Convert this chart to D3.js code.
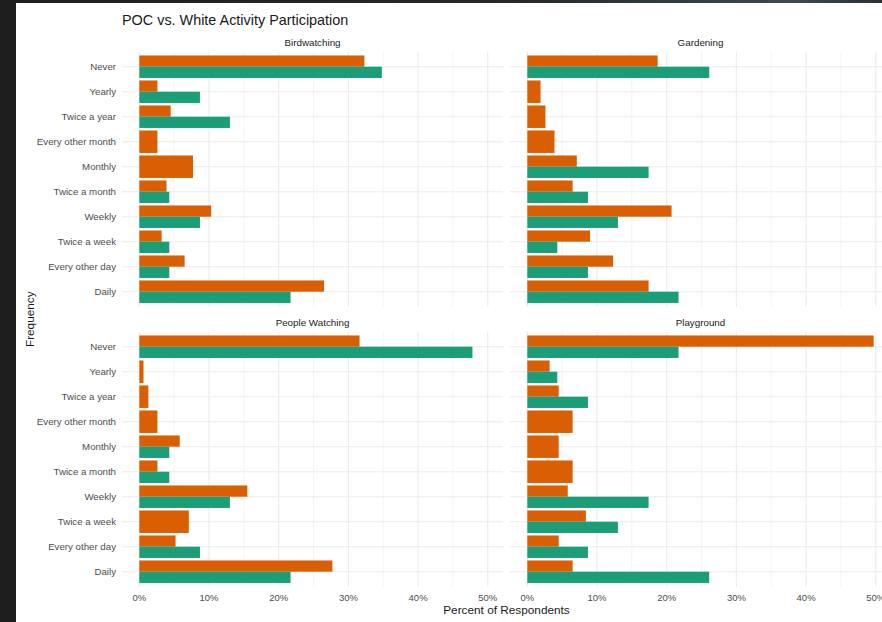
<!DOCTYPE html>
<html>
<head>
<meta charset="utf-8">
<script src="https://cdn.jsdelivr.net/npm/d3@7"></script>
<style>
  html, body { margin: 0; padding: 0; background: #ffffff; }
  svg { display: block; }
  text { font-family: "Liberation Sans", Arial, Helvetica, sans-serif; }
</style>
</head>
<body>
<script>
// ---------- data ----------
const categories = ["Never", "Yearly", "Twice a year", "Every other month", "Monthly",
  "Twice a month", "Weekly", "Twice a week", "Every other day", "Daily"];
const activities = ["Birdwatching", "Gardening", "People Watching", "Playground"];
const groups = ["POC", "White"];
const groupColors = ["#D95F02", "#1B9E77"];

const birdwatchingPOC   = [32.3, 2.6, 4.5, 2.6, 7.7, 3.9, 10.3, 3.2, 6.5, 26.5];
const birdwatchingWhite = [34.8, 8.7, 13.0, null, null, 4.3, 8.7, 4.3, 4.3, 21.7];
const gardeningPOC      = [18.7, 1.9, 2.6, 3.9, 7.1, 6.5, 20.7, 9.0, 12.3, 17.4];
const gardeningWhite    = [26.1, null, null, null, 17.4, 8.7, 13.0, 4.3, 8.7, 21.7];
const peoplePOC         = [31.6, 0.6, 1.3, 2.6, 5.8, 2.6, 15.5, 7.1, 5.2, 27.7];
const peopleWhite       = [47.8, null, null, null, 4.3, 4.3, 13.0, null, 8.7, 21.7];
const playgroundPOC     = [49.7, 3.2, 4.5, 6.5, 4.5, 6.5, 5.8, 8.4, 4.5, 6.5];
const playgroundWhite   = [21.7, 4.3, 8.7, null, null, null, 17.4, 13.0, 8.7, 26.1];

const xTicks = [0, 10, 20, 30, 40, 50];
const xMinorTicks = [5, 15, 25, 35, 45];

const titleText = "POC vs. White Activity Participation";
const xTitle = "Percent of Respondents";
const yTitle = "Frequency";

const seriesByActivity = [
  [birdwatchingPOC, birdwatchingWhite],
  [gardeningPOC, gardeningWhite],
  [peoplePOC, peopleWhite],
  [playgroundPOC, playgroundWhite]
];

// ---------- layout ----------
const W = 882, H = 622;
const svg = d3.select("body").append("svg").attr("width", W).attr("height", H);

// screenshot frame
const defs = svg.append("defs");
const grad = defs.append("linearGradient").attr("id", "topbar").attr("x1", "0").attr("x2", "1");
grad.append("stop").attr("offset", "0").attr("stop-color", "#1f1f1f");
grad.append("stop").attr("offset", "0.6").attr("stop-color", "#262a2c");
grad.append("stop").attr("offset", "0.9").attr("stop-color", "#3b4b53");
grad.append("stop").attr("offset", "1").attr("stop-color", "#2a3034");
svg.append("rect").attr("x", 0).attr("y", 0).attr("width", W).attr("height", 3).attr("fill", "url(#topbar)");
svg.append("rect").attr("x", 0).attr("y", 0).attr("width", 16).attr("height", H).attr("fill", "#1e1e1e");

const colX = [122, 510];
const rowY = [51.7, 331.7];
const panelW = 381, panelH = 255;

const maxVal = d3.max(seriesByActivity.flat(2).filter(v => v != null));
const xDomain = [-0.05 * maxVal, 1.05 * maxVal];

activities.forEach((act, i) => {
  const px = colX[i % 2], py = rowY[Math.floor(i / 2)];
  const g = svg.append("g").attr("transform", `translate(${px},${py})`);

  const x = d3.scaleLinear().domain(xDomain).range([0, panelW]);
  const y = d3.scalePoint().domain(categories).range([0, panelH]).padding(0.6);
  const step = y.step();

  // grid
  g.selectAll(".minor").data(xMinorTicks).join("line")
    .attr("x1", d => x(d)).attr("x2", d => x(d)).attr("y1", 0).attr("y2", panelH)
    .attr("stroke", "#efefef").attr("stroke-width", 0.7);
  g.selectAll(".major").data(xTicks).join("line")
    .attr("x1", d => x(d)).attr("x2", d => x(d)).attr("y1", 0).attr("y2", panelH)
    .attr("stroke", "#ebebeb").attr("stroke-width", 1.1);
  g.selectAll(".hgrid").data(categories).join("line")
    .attr("x1", 0).attr("x2", panelW).attr("y1", d => y(d)).attr("y2", d => y(d))
    .attr("stroke", "#ebebeb").attr("stroke-width", 1.1);

  // bars
  const [pocVals, whiteVals] = seriesByActivity[i];
  const bars = [];
  categories.forEach((c, k) => {
    const vals = [pocVals[k], whiteVals[k]];
    const present = vals.map((v, gi) => ({v, gi})).filter(d => d.v != null);
    const bw = 0.9 * step / present.length;
    present.forEach((d, j) => {
      bars.push({cat: c, v: d.v, gi: d.gi, y0: y(c) - 0.45 * step + j * bw, h: bw});
    });
  });
  g.selectAll(".bar").data(bars).join("rect")
    .attr("x", x(0)).attr("y", d => d.y0)
    .attr("width", d => x(d.v) - x(0)).attr("height", d => d.h)
    .attr("fill", d => groupColors[d.gi]);

  // strip title
  svg.append("text").attr("x", px + panelW / 2).attr("y", py - 9)
    .attr("text-anchor", "middle").attr("dominant-baseline", "central")
    .attr("font-size", 9.8).attr("fill", "#1a1a1a").text(act);

  // y tick labels (left column only)
  if (i % 2 === 0) {
    g.selectAll(".ylab").data(categories).join("text")
      .attr("x", -6).attr("y", d => y(d))
      .attr("text-anchor", "end").attr("dominant-baseline", "central")
      .attr("font-size", 9.7).attr("fill", "#4d4d4d").text(d => d);
  }
  // x tick labels (bottom row only)
  if (i >= 2) {
    g.selectAll(".xlab").data(xTicks).join("text")
      .attr("x", d => x(d)).attr("y", panelH + 10.5)
      .attr("text-anchor", "middle").attr("dominant-baseline", "central")
      .attr("font-size", 9.5).attr("fill", "#4d4d4d").text(d => d + "%");
  }
});

// titles
svg.append("text").attr("x", 122).attr("y", 25)
  .attr("font-size", 14.4).attr("fill", "#1a1a1a").text(titleText);
svg.append("text").attr("x", (colX[0] + colX[1] + panelW) / 2).attr("y", 609.5)
  .attr("text-anchor", "middle").attr("dominant-baseline", "central")
  .attr("font-size", 11.8).attr("fill", "#1a1a1a").text(xTitle);
svg.append("text")
  .attr("transform", `translate(29.5,${(rowY[0] + rowY[1] + panelH) / 2}) rotate(-90)`)
  .attr("text-anchor", "middle").attr("dominant-baseline", "central")
  .attr("font-size", 11.8).attr("fill", "#1a1a1a").text(yTitle);
</script>
</body>
</html>
